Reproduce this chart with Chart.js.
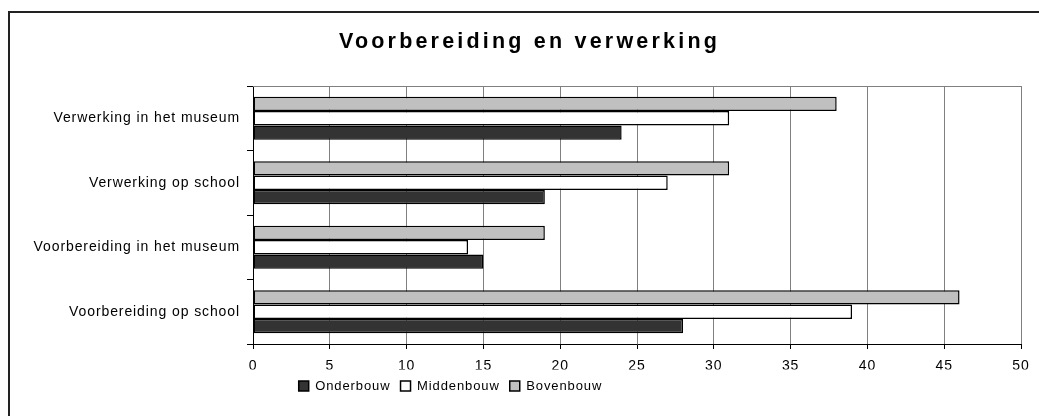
<!DOCTYPE html>
<html>
<head>
<meta charset="utf-8">
<script src="https://cdn.jsdelivr.net/npm/chart.js@4.4.1/dist/chart.umd.min.js"></script>
<style>
  html,body{margin:0;padding:0;background:#fff;overflow:hidden;width:1039px;height:416px;}
  #frame{position:absolute;left:8px;top:11px;width:1100px;height:500px;border-left:2px solid #222;border-top:2px solid #222;}
  #chart{position:absolute;left:8px;top:0;}
</style>
</head>
<body>
<div id="frame"></div>
<canvas id="chart" width="1042" height="416"></canvas>
<script>
// data
var categories = ['Verwerking in het museum','Verwerking op school','Voorbereiding in het museum','Voorbereiding op school'];
var bovenbouw = [38,31,19,46];
var middenbouw = [31,27,14,39];
var onderbouw = [24,19,15,28];
var seriesNames = ['Bovenbouw','Middenbouw','Onderbouw'];
var xTicks = [0,5,10,15,20,25,30,35,40,45,50];

var fontFam = "'Liberation Sans', Arial, sans-serif";

//letter spacing like the old excel rendering
const spacingPlugin = {
    id:'spacing',
    beforeUpdate:(chart)=>{ chart.ctx.letterSpacing = '0.9px'; },
    beforeDraw:(chart)=>{ chart.ctx.letterSpacing = '0.9px'; },
    afterInit:(chart)=>{
        var tb = chart.titleBlock, orig = tb.draw.bind(tb);
        tb.draw = function(){
            var c = chart.ctx;
            //title is a bit right of the canvas centre
            c.save(); c.letterSpacing = '3.2px'; c.translate(15,0); orig(); c.restore();
        }
    },
    //legend sits left of centre in the original
    afterUpdate:(chart)=>{
        var lg = chart.legend;
        lg.left = 0; lg.right = 885;
        lg.adjustHitBoxes();
    },
    //top border of the plot area
    afterDraw:(chart)=>{
        var a = chart.chartArea, c = chart.ctx;
        c.save();
        c.strokeStyle = '#808080'; c.lineWidth = 1;
        c.beginPath(); c.moveTo(a.left, a.top + 0.5); c.lineTo(a.right, a.top + 0.5); c.stroke();
        c.restore();
    }
};

var ctx = document.getElementById('chart').getContext('2d');
var chart = new Chart(ctx, {
    type:'bar',
    data:{
        labels:categories,
        datasets:[
            {label:seriesNames[0],data:bovenbouw,backgroundColor:'#c0c0c0',borderColor:'#000',borderWidth:1.5,borderSkipped:false},
            {label:seriesNames[1],data:middenbouw,backgroundColor:'#ffffff',borderColor:'#000',borderWidth:1.5,borderSkipped:false},
            {label:seriesNames[2],data:onderbouw,backgroundColor:'#333333',borderColor:'#000',borderWidth:1.5,borderSkipped:false}
        ]
    },
    options:{
        indexAxis:'y',
        responsive:false,
        animation:false,
        devicePixelRatio:1,
        categoryPercentage:0.67,
        barPercentage:1,
        layout:{padding:{top:29.5,left:0,right:29,bottom:13.5}},
        plugins:{
            title:{
                display:true,
                text:'Voorbereiding en verwerking',
                color:'#000',
                font:{family:fontFam,size:21.5,weight:'bold'},
                padding:{top:0,bottom:30.7}
            },
            legend:{
                position:'bottom',
                reverse:true,
                labels:{color:'#000',boxWidth:10,boxHeight:10,padding:10,font:{family:fontFam,size:13}}
            },
            tooltip:{enabled:false}
        },
        scales:{
            x:{
                min:0,max:50,
                afterBuildTicks:(s)=>{ s.ticks = xTicks.map(v=>({value:v})); },
                afterFit:(s)=>{ s.height = 25.5; },
                grid:{color:'#808080',lineWidth:1,tickColor:'#000',tickLength:5},
                border:{color:'#000',width:1},
                ticks:{color:'#000',padding:9,font:{family:fontFam,size:14}}
            },
            y:{
                afterFit:(s)=>{ s.width = 245; },
                grid:{offset:true,drawOnChartArea:false,color:'#000',tickLength:6},
                border:{color:'#000',width:1},
                ticks:{color:'#000',padding:7,font:{family:fontFam,size:14}}
            }
        }
    },
    plugins:[spacingPlugin]
});
</script>
</body>
</html>
